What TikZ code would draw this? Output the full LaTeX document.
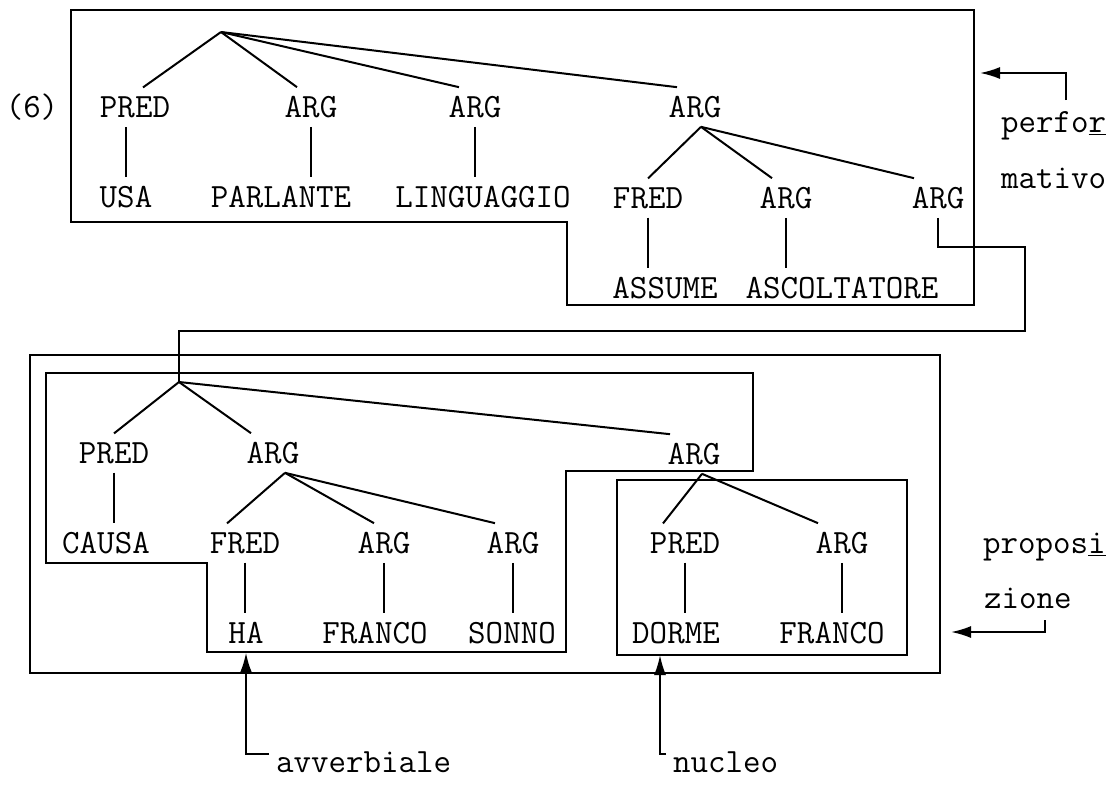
\documentclass[tikz,border=0pt]{standalone}
\usepackage{fontspec}
\usepackage{tikz}
\usetikzlibrary{arrows.meta}

\begin{document}
\begin{tikzpicture}[x=0.5pt, y=-0.5pt, line width=1pt, >={Latex[length=10pt,width=6pt]},
  every node/.style={font=\ttfamily\fontsize{17}{20}\selectfont, inner sep=4pt}]
\useasboundingbox (0,0) rectangle (1112,793);

% performative tree
\node (num) at (32,107) {(6)};
\coordinate (top) at (221,32);
\node (tpred) at (135,107) {PRED};
\node (targa) at (311,107) {ARG};
\node (targb) at (475,107) {ARG};
\node (targc) at (695,107) {ARG};
\node (tusa) at (126,197) {USA};
\node (tparl) at (281,197) {PARLANTE};
\node (tling) at (483,197) {LINGUAGGIO};
\node (tfred) at (648,198) {FRED};
\node (targd) at (786,198) {ARG};
\node (targe) at (938,198) {ARG};
\node (tass) at (665,288) {ASSUME};
\node (tasc) at (842,288) {ASCOLTATORE};

\draw (top) -- ([xshift=4pt]tpred.north);
\draw (top) -- ([xshift=-7pt]targa.north);
\draw (top) -- ([xshift=-8pt]targb.north);
\draw (top) -- ([xshift=-9pt]targc.north);
\coordinate (tsub) at ([xshift=3pt]targc.south);
\draw (tsub) -- (tfred.north);
\draw (tsub) -- ([xshift=-7pt]targd.north);
\draw (tsub) -- ([xshift=-12pt]targe.north);
\draw (tusa.north) -- (tusa.north |- tpred.south);
\draw (targa.south) -- (targa.south |- tparl.north);
\draw (targb.south) -- (targb.south |- tling.north);
\draw (tfred.south) -- (tfred.south |- tass.north);
\draw (targd.south) -- (targd.south |- tasc.north);

\draw (71,10) -- (974,10) -- (974,305) -- (567,305) -- (567,222) -- (71,222) -- cycle;

% proposition tree
\coordinate (low) at (179,382);
\coordinate (bend) at (179,331);
\draw (targe.south) |- (1025,247) |- (bend) -- (low);

\node (lpred) at (114,453) {PRED};
\node (larga) at (273,453) {ARG};
\node (largb) at (694,454) {ARG};
\node (lcausa) at (106,543) {CAUSA};
\node (lfred) at (245,543) {FRED};
\node (largc) at (384,543) {ARG};
\node (largd) at (513,543) {ARG};
\node (lha) at (246,633) {HA};
\node (lfra) at (375,633) {FRANCO};
\node (lson) at (512,633) {SONNO};
\node (lpredb) at (685,543) {PRED};
\node (large) at (842,543) {ARG};
\node (ldor) at (676,633) {DORME};
\node (lfrb) at (832,633) {FRANCO};

\draw (low) -- (lpred.north);
\draw (low) -- ([xshift=-11pt]larga.north);
\draw (low) -- ([xshift=-12pt]largb.north);
\coordinate (lsuba) at ([xshift=6pt]larga.south);
\draw (lsuba) -- ([xshift=-9pt]lfred.north);
\draw (lsuba) -- ([xshift=-5pt]largc.north);
\draw (lsuba) -- ([xshift=-9pt]largd.north);
\coordinate (lsubb) at ([xshift=4pt]largb.south);
\draw (lsubb) -- ([xshift=-11pt]lpredb.north);
\draw (lsubb) -- ([xshift=-12pt]large.north);
\draw (lpred.south) -- (lpred.south |- lcausa.north);
\draw (lfred.south) -- (lfred.south |- lha.north);
\draw (largc.south) -- (largc.south |- lfra.north);
\draw (largd.south) -- (largd.south |- lson.north);
\draw (lpredb.south) -- (lpredb.south |- ldor.north);
\draw (large.south) -- (large.south |- lfrb.north);

\draw (30,355) rectangle (940,673);
\draw (46,373) -- (753,373) -- (753,471) -- (566,471) -- (566,652) -- (207,652) -- (207,563) -- (46,563) -- cycle;
\draw (617,480) rectangle (907,655);

% side labels
\node[anchor=base west, inner sep=0] (perfa) at (1000,132) {perfo\underline{r}};
\node[anchor=base west, inner sep=0] (perfb) at (1000,188) {mativo};
\coordinate (pfa) at (1066,100);
\coordinate (pfb) at (980,73);
\draw[->] (pfa) |- (pfb);

\node[anchor=base west, inner sep=0] (propa) at (982,553) {propos\underline{i}};
\node[anchor=base west, inner sep=0] (propb) at (983,608) {zione};
\coordinate (ppa) at (1045,620);
\coordinate (ppb) at (951,632);
\draw[->] (ppa) |- (ppb);

\node[anchor=west, inner sep=3pt] (avv) at (269,762) {avverbiale};
\draw[->] ([yshift=4pt]avv.west) -| (lha.south);
\node[anchor=west, inner sep=3pt] (nuc) at (666,762) {nucleo};
\coordinate (nuctip) at (660,655);
\draw[->] ([yshift=4pt]nuc.west) -| (nuctip);
\end{tikzpicture}
\end{document}
